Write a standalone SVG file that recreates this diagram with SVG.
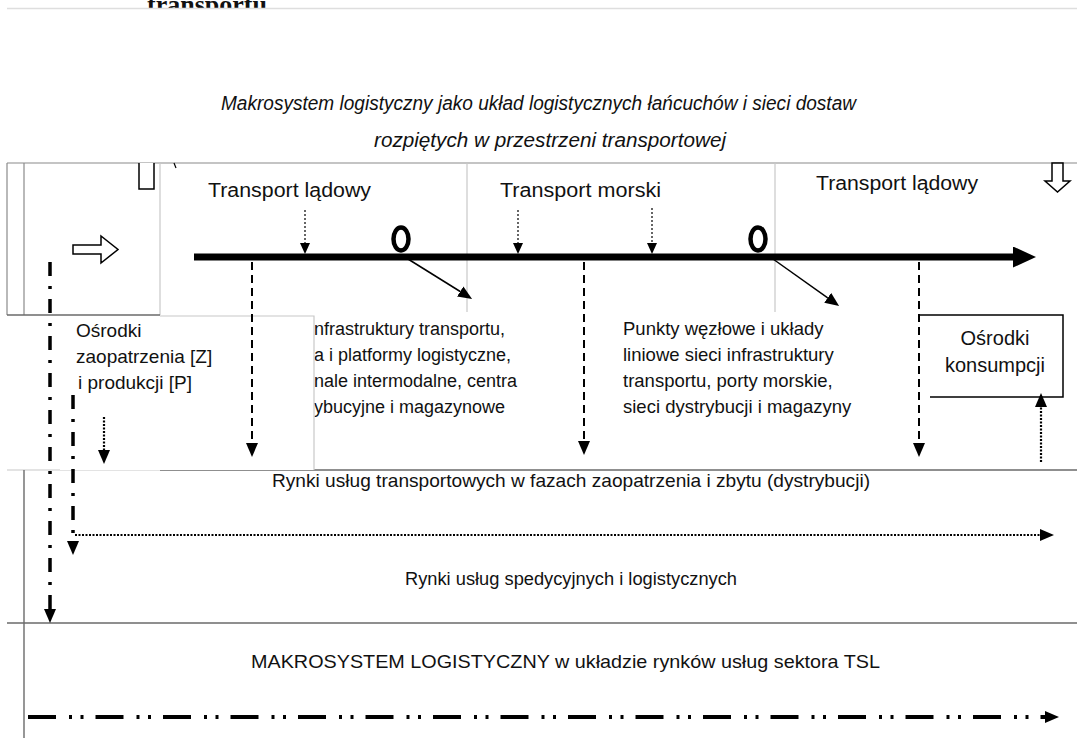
<svg xmlns="http://www.w3.org/2000/svg" width="1077" height="738" viewBox="0 0 1077 738">
<style>
.t{font-family:"Liberation Sans",Arial,sans-serif;font-size:19px;fill:#111}
.ti{font-family:"Liberation Sans",Arial,sans-serif;font-style:italic;font-size:19.5px;fill:#111}
.tb{font-family:"Liberation Serif","Times New Roman",serif;font-weight:bold;font-size:26px;fill:#111}
.lg{stroke:#c8c8c8;stroke-width:1.2;fill:none}
.mg{stroke:#8a8a8a;stroke-width:1.2;fill:none}
.dg{stroke:#6a6a6a;stroke-width:1.4;fill:none}
.sh{stroke:#000;stroke-width:1.5;fill:#fff}
.dash{stroke:#000;stroke-width:2;stroke-dasharray:8 5;fill:none}
.dot{stroke:#000;stroke-width:1.2;stroke-dasharray:2 2;fill:none}
.dotb{stroke:#000;stroke-width:2.2;stroke-dasharray:2 1.5;fill:none}
.dd{stroke:#000;stroke-width:3.5;stroke-dasharray:14 10 3 10;fill:none}
.ddd{stroke:#000;stroke-width:4;stroke-dasharray:28 13 3 8.5 3 12;fill:none}
.main{stroke:#000;stroke-width:7;fill:none}
</style>
<defs>
<clipPath id="topclip"><rect x="0" y="0" width="1077" height="8"/></clipPath>
<marker id="ahL" viewBox="0 0 14 12" refX="0" refY="6" markerWidth="14" markerHeight="12" markerUnits="userSpaceOnUse" orient="auto"><path d="M0,0 L14,6 L0,12 z" fill="#000"/></marker>
<marker id="ahS" viewBox="0 0 11 10" refX="0" refY="5" markerWidth="11" markerHeight="10" markerUnits="userSpaceOnUse" orient="auto"><path d="M0,0 L11,5 L0,10 z" fill="#000"/></marker>
<marker id="ahM" viewBox="0 0 23 21" refX="0" refY="10.5" markerWidth="23" markerHeight="21" markerUnits="userSpaceOnUse" orient="auto"><path d="M0,0 L23,10.5 L0,21 z" fill="#000"/></marker>
</defs>
<rect width="1077" height="738" fill="#fff"/>

<g id="page-remnant">
<text class="tb" x="147" y="13" clip-path="url(#topclip)">transportu</text>
<line x1="7" y1="8.5" x2="1077" y2="8.5" stroke="#dedede" stroke-width="1.5"/>
</g>

<g id="frame">
<line class="mg" x1="7" y1="163" x2="1077" y2="163"/>
<line class="mg" x1="7" y1="163" x2="7" y2="315"/>
<line class="mg" x1="24" y1="163" x2="24" y2="315"/>
<line class="lg" x1="160" y1="163" x2="160" y2="315"/>
<line class="dg" x1="7" y1="315" x2="160" y2="315"/>
<line class="lg" x1="467" y1="163" x2="467" y2="312"/>
<line class="lg" x1="775" y1="163" x2="775" y2="312"/>
<line class="lg" x1="7" y1="470" x2="160" y2="470"/>
<line class="dg" x1="160" y1="470" x2="1077" y2="470"/>
<line class="dg" x1="24" y1="470" x2="24" y2="738"/>
<line class="dg" x1="7" y1="623" x2="1077" y2="623"/>
</g>

<g id="title">
<text class="ti" x="221" y="110" textLength="635" lengthAdjust="spacingAndGlyphs">Makrosystem logistyczny jako układ logistycznych łańcuchów  i sieci dostaw</text>
<text class="ti" x="374" y="147" textLength="352" lengthAdjust="spacingAndGlyphs">rozpiętych w przestrzeni transportowej</text>
</g>

<g id="node-transport-ladowy-1"><text class="t" x="208" y="197" style="font-size:20px" textLength="163" lengthAdjust="spacingAndGlyphs">Transport lądowy</text></g>
<g id="node-transport-morski"><text class="t" x="500" y="197" style="font-size:20px" textLength="161" lengthAdjust="spacingAndGlyphs">Transport morski</text></g>
<g id="node-transport-ladowy-2"><text class="t" x="816" y="190" style="font-size:20px" textLength="162" lengthAdjust="spacingAndGlyphs">Transport lądowy</text></g>

<g id="node-infrastruktura">
<text class="t" x="314" y="335" style="font-size:18px">nfrastruktury transportu,</text>
<text class="t" x="314" y="361" style="font-size:18px">a i platformy logistyczne,</text>
<text class="t" x="314" y="387" style="font-size:18px">nale intermodalne, centra</text>
<text class="t" x="314" y="413" style="font-size:18px">ybucyjne i magazynowe</text>
</g>

<g id="node-osrodki-zaopatrzenia">
<rect x="60" y="316" width="254" height="154" fill="#fff"/>
<polyline class="lg" points="160,316 314,316 314,470"/>
<text class="t" x="76" y="337">Ośrodki</text>
<text class="t" x="76" y="363">zaopatrzenia [Z]</text>
<text class="t" x="78" y="389">i produkcji [P]</text>
</g>

<g id="node-punkty-wezlowe">
<text class="t" x="623" y="335" style="font-size:18.5px">Punkty węzłowe i układy</text>
<text class="t" x="623" y="361" style="font-size:18.5px">liniowe sieci infrastruktury</text>
<text class="t" x="623" y="387" style="font-size:18.5px">transportu, porty morskie,</text>
<text class="t" x="623" y="413" style="font-size:18.5px">sieci dystrybucji i magazyny</text>
</g>

<g id="node-osrodki-konsumpcji">
<path d="M919,315 H1063 V397 H930" fill="none" stroke="#000" stroke-width="1.5"/>
<text class="t" x="995" y="345" text-anchor="middle" style="font-size:20px">Ośrodki</text>
<text class="t" x="995" y="372" text-anchor="middle" style="font-size:20px">konsumpcji</text>
</g>

<g id="node-wezel-1"><ellipse cx="401" cy="239" rx="7.5" ry="11.5" fill="none" stroke="#000" stroke-width="4.5"/></g>
<g id="node-wezel-2"><ellipse cx="758" cy="239" rx="7.5" ry="11.5" fill="none" stroke="#000" stroke-width="4.5"/></g>

<g id="node-symbols">
<polygon class="sh" points="73,245 101,245 101,236 118,249.5 101,263 101,254 73,254"/>
<polygon class="sh" points="1052,163 1063,163 1063,181 1070,181 1057.5,192 1045,181 1052,181"/>
<polyline class="sh" fill="none" points="139,163 139,189 154,189 154,163"/>
<line x1="174" y1="163" x2="176" y2="168" stroke="#000" stroke-width="1.2"/>
</g>

<g id="node-rynki-transportowe"><text class="t" x="272" y="487" textLength="598" lengthAdjust="spacingAndGlyphs">Rynki usług transportowych w fazach zaopatrzenia i zbytu (dystrybucji)</text></g>
<g id="node-rynki-spedycyjne"><text class="t" x="405" y="585" style="font-size:17.5px" textLength="332" lengthAdjust="spacingAndGlyphs">Rynki usług spedycyjnych i logistycznych</text></g>
<g id="node-makrosystem"><text class="t" x="251" y="668" textLength="629" lengthAdjust="spacingAndGlyphs">MAKROSYSTEM LOGISTYCZNY w układzie rynków usług sektora TSL</text></g>

<g id="connectors">
<line class="main" x1="194" y1="257" x2="1013" y2="257" marker-end="url(#ahM)"/>
<line class="dot" x1="305" y1="210" x2="305" y2="243" marker-end="url(#ahS)"/>
<line class="dot" x1="518" y1="210" x2="518" y2="243" marker-end="url(#ahS)"/>
<line class="dot" x1="652" y1="208" x2="652" y2="243" marker-end="url(#ahS)"/>
<line x1="408" y1="259" x2="460.2" y2="291.5" stroke="#000" stroke-width="1.5" marker-end="url(#ahL)"/>
<line x1="773" y1="259" x2="827.7" y2="297.8" stroke="#000" stroke-width="1.5" marker-end="url(#ahL)"/>
<line class="dash" x1="252" y1="262" x2="252" y2="443" marker-end="url(#ahL)"/>
<line class="dash" x1="584" y1="262" x2="584" y2="441" marker-end="url(#ahL)"/>
<line class="dash" x1="919" y1="262" x2="919" y2="443" marker-end="url(#ahL)"/>
<line class="dotb" x1="104" y1="417" x2="104" y2="450" marker-end="url(#ahL)"/>
<line class="dotb" x1="1041" y1="462" x2="1041" y2="407" marker-end="url(#ahL)"/>
<line class="dd" x1="50" y1="262" x2="50" y2="609" marker-end="url(#ahL)"/>
<line class="dd" x1="73" y1="395" x2="73" y2="541" marker-end="url(#ahL)"/>
<line class="dotb" x1="75" y1="535" x2="1040" y2="535" marker-end="url(#ahL)"/>
<line class="ddd" x1="28" y1="717" x2="1045" y2="717" marker-end="url(#ahL)"/>
</g>
</svg>
